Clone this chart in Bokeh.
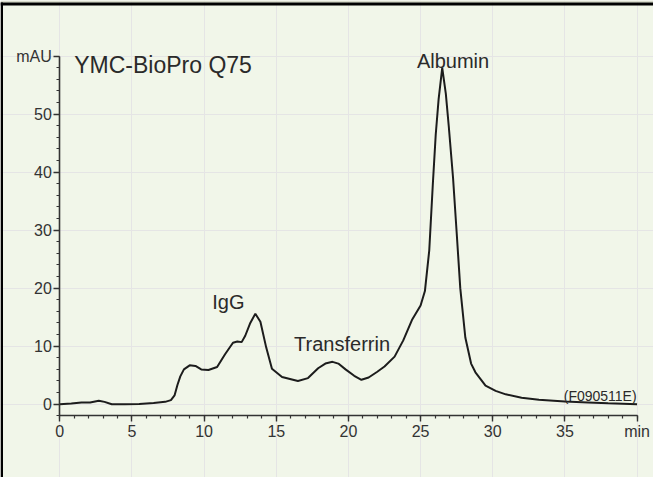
from bokeh.plotting import figure
from bokeh.models import LinearAxis, SingleIntervalTicker, Range1d, Label, BoxAnnotation
from bokeh.core.properties import value
from bokeh.embed import file_html
from bokeh.resources import INLINE

# ---- data ----
time_min = [0.0, 0.8, 1.5, 2.1, 2.7, 3.1, 3.6, 4.5, 5.5, 6.5,
            7.3, 7.7, 7.95, 8.15, 8.35, 8.6, 9.0, 9.4, 9.8, 10.3,
            10.9, 11.45, 12.0, 12.3, 12.6, 12.85, 13.2, 13.55, 13.9, 14.3,
            14.7, 15.4, 16.5, 17.2, 17.9, 18.4, 18.9, 19.3, 19.8, 20.4,
            20.9, 21.4, 22.0, 22.5, 23.2, 23.8, 24.4, 25.0, 25.3, 25.6,
            25.85, 26.05, 26.25, 26.5, 26.75, 26.95, 27.25, 27.5, 27.75, 28.1,
            28.5, 28.8, 29.5, 30.2, 30.9, 32.0, 33.2, 35.0, 36.6, 38.0,
            40.0]
absorbance_mau = [0.0, 0.1, 0.3, 0.3, 0.6, 0.4, 0.0, 0.0, 0.05, 0.2,
                  0.4, 0.7, 1.5, 3.3, 4.8, 6.0, 6.7, 6.6, 6.0, 5.9,
                  6.4, 8.6, 10.6, 10.8, 10.7, 11.8, 14.0, 15.6, 14.2, 9.8,
                  6.1, 4.7, 4.0, 4.5, 6.2, 7.0, 7.3, 7.0, 6.0, 4.9,
                  4.2, 4.6, 5.6, 6.5, 8.2, 11.0, 14.5, 17.0, 19.5, 26.5,
                  38.0, 46.5, 52.6, 58.0, 53.5, 48.0, 39.0, 29.6, 20.0, 11.5,
                  7.0, 5.5, 3.2, 2.3, 1.7, 1.1, 0.76, 0.45, 0.3, 0.15,
                  0.0]

peak_names = ["IgG", "Transferrin", "Albumin"]
peak_label_time = [11.68, 19.56, 27.25]
peak_label_mau = [17.7, 10.34, 59.2]

column_name = "YMC-BioPro Q75"
sample_code = "(F090511E)"
x_unit_label = "min"
y_unit_label = "mAU"
x_axis_end = 40
y_axis_end = 60
x_axis_base = -2

FONT = "Liberation Sans"
INK = "#2a2a2a"
PANEL = "#F1F6E9"
TEXTURE = "#d6d9c9"

W, H = 653, 477
X0, X1 = -4.11, 41.14
Y0, Y1 = -12.64, 69.6
px_x = (X1 - X0) / W
px_y = (Y1 - Y0) / H

p = figure(width=W, height=H, output_backend="svg", toolbar_location=None,
           x_range=Range1d(X0, X1), y_range=Range1d(Y0, Y1),
           x_axis_location=None, y_axis_location=None,
           min_border_left=0, min_border_top=0, min_border_right=0, min_border_bottom=0,
           background_fill_color=PANEL, border_fill_color=PANEL,
           outline_line_color=None)

# panel frame: texture strip above, black rule on top and left
p.add_layout(BoxAnnotation(bottom=Y1 - 2 * px_y, fill_color=TEXTURE, fill_alpha=1,
                           line_color=None))
p.add_layout(BoxAnnotation(bottom=Y1 - 5 * px_y, top=Y1 - 2 * px_y, fill_color="#000000",
                           fill_alpha=1, line_color=None))
p.add_layout(BoxAnnotation(right=X0 + 2.5 * px_x, top=Y1 - 2 * px_y, fill_color="#000000",
                           fill_alpha=1, line_color=None))

def style_axis(ax):
    ax.axis_line_color = "#333333"
    ax.axis_line_width = 1.6
    ax.major_tick_line_color = "#333333"
    ax.minor_tick_line_color = "#333333"
    ax.major_tick_line_width = 1.4
    ax.minor_tick_line_width = 1.2
    ax.major_tick_in = 0
    ax.major_tick_out = 6
    ax.minor_tick_in = 0
    ax.minor_tick_out = 3
    ax.major_label_text_font = FONT
    ax.major_label_text_font_size = "16px"
    ax.major_label_text_color = "#333333"

xa = LinearAxis(fixed_location=x_axis_base, bounds=(0, x_axis_end),
                ticker=SingleIntervalTicker(interval=5, num_minor_ticks=5),
                major_label_overrides={x_axis_end: x_unit_label})
style_axis(xa)
xa.major_label_standoff = 1
p.add_layout(xa, "below")

ya = LinearAxis(fixed_location=0, bounds=(x_axis_base, y_axis_end),
                ticker=SingleIntervalTicker(interval=10, num_minor_ticks=5),
                major_label_overrides={y_axis_end: y_unit_label})
style_axis(ya)
ya.major_label_standoff = 2
p.add_layout(ya, "left")

p.line(time_min, absorbance_mau, line_color="#1c1c1c", line_width=2)

p.text(x=peak_label_time, y=peak_label_mau, text=peak_names,
       text_font=value(FONT), text_font_size="20px", text_align="center",
       text_baseline="alphabetic", text_color=INK)

p.add_layout(Label(x=1.0, y=58.4, text=column_name, text_font=FONT,
                   text_font_size="23px", text_color=INK, text_baseline="alphabetic"))
p.add_layout(Label(x=39.97, y=1.33, text=sample_code, text_font=FONT,
                   text_font_size="14px", text_color=INK, text_align="right",
                   text_baseline="alphabetic"))

open("out.html", "w").write(file_html(p, INLINE))
